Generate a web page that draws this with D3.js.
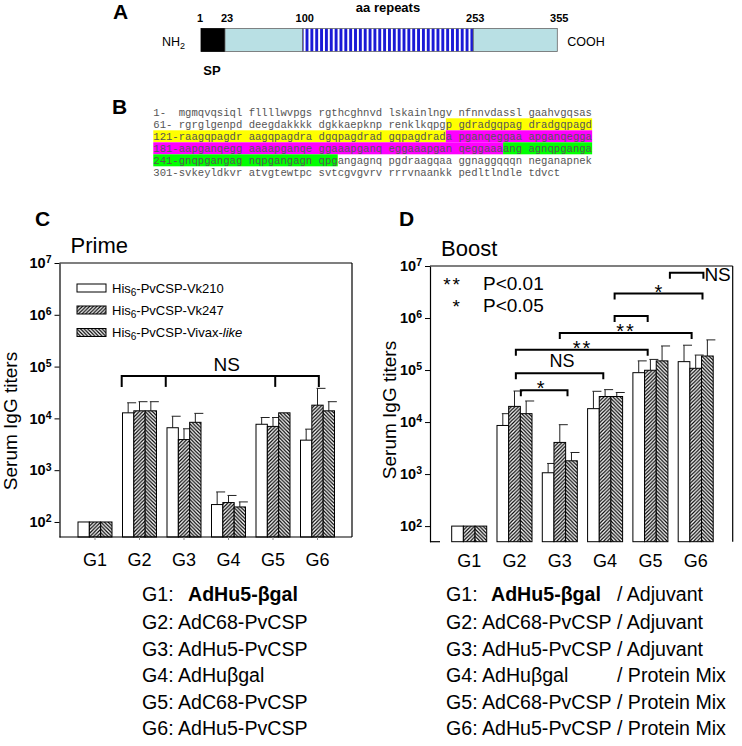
<!DOCTYPE html>
<html><head><meta charset="utf-8">
<script src="https://cdn.jsdelivr.net/npm/d3@7"></script>
<style>
body{margin:0;background:#fff}
svg{display:block}
</style></head><body>
<svg id="fig" width="742" height="746" font-family="'Liberation Sans', Arial, sans-serif"></svg>
<script>
// ---------------- data ----------------
const groups = ["G1","G2","G3","G4","G5","G6"];
const seriesNames = ["Vk210","Vk247","Vivax"];
const legendLabels = ["Vk210","Vk247","Vivax-"];

const primeVk210    = [100, 12800, 6600, 217, 7700, 3800];
const primeVk210Err = [null, 20000, 11000, 380, 10400, 6200];
const primeVk247    = [100, 14000, 3900, 237, 7000, 18000];
const primeVk247Err = [null, 21000, 6300, 325, 10400, 38000];
const primeVivax    = [100, 14000, 8400, 195, 12800, 14000];
const primeVivaxErr = [null, 21000, 12500, 244, null, 21000];

const boostVk210    = [100, 8600, 1060, 18100, 89000, 145000];
const boostVk210Err = [null, 14500, 1600, 39000, 150000, 300000];
const boostVk247    = [100, 20000, 4060, 31000, 99000, 108000];
const boostVk247Err = [null, 39500, 8900, 42000, 160000, 194000];
const boostVivax    = [100, 14500, 1800, 31000, 150000, 186000];
const boostVivaxErr = [null, 25400, 2600, 37000, 290000, 380000];

const yTicks = [1e2, 1e3, 1e4, 1e5, 1e6, 1e7];

// brackets: group-index positions, y in titer units
const primeBracket = {from:0.6, to:5.03, mids:[1.59, 4.05], y:Math.pow(10,4.82), label:"NS", lx:2.96};
const boostBrackets = [
  {from:1.14, to:2.17, y:Math.pow(10,4.61), label:"*",  lx:1.6},
  {from:1.03, to:2.96, y:Math.pow(10,4.94), label:"NS", lx:2.05},
  {from:1.03, to:3.94, y:Math.pow(10,5.39), label:"**", lx:2.5},
  {from:2.0,  to:4.91, y:Math.pow(10,5.71), label:"**", lx:3.46},
  {from:3.21, to:3.94, y:Math.pow(10,6.04), label:"",   lx:3.5},
  {from:3.21, to:5.15, y:Math.pow(10,6.47), label:"*",  lx:4.2},
  {from:4.43, to:5.17, y:Math.pow(10,6.87), label:"NS", lx:null}
];

const primeGroupNames = ["AdHu5-\u03b2gal","AdC68-PvCSP","AdHu5-PvCSP","AdHu\u03b2gal","AdC68-PvCSP","AdHu5-PvCSP"];
const boostSecond = ["/ Adjuvant","/ Adjuvant","/ Adjuvant","/ Protein Mix","/ Protein Mix","/ Protein Mix"];

const cspLandmarks = [1, 23, 100, 253, 355];
const seqLines = [
 "1-  mgmqvqsiql fllllwvpgs rgthcghnvd lskainlngv nfnnvdassl gaahvgqsas",
 "61- rgrglgenpd deegdakkkk dgkkaepknp renklkqpgp gdradgqpag dradgqpagd",
 "121-raagqpagdr aagqpagdra dgqpagdrad gqpagdrada pganqeggaa apganqegga",
 "181-aapganqegg aaaapganqe ggaaapganq eggaaapgan qeggaaaang agnqpganga",
 "241-gnqpgangag nqpgangagn qpgangagnq pgdraagqaa ggnaggqqqn neganapnek",
 "301-svkeyldkvr atvgtewtpc svtcgvgvrv rrrvnaankk pedltlndle tdvct"
];
const seqHighlights = [
 {line:1, start:46, end:69, color:"#ffff00"},
 {line:2, start:0,  end:46, color:"#ffff00"},
 {line:2, start:46, end:69, color:"#ff00ff"},
 {line:3, start:0,  end:55, color:"#ff00ff"},
 {line:3, start:55, end:69, color:"#00ff00"},
 {line:4, start:0,  end:29, color:"#00ff00"}
];

// ---------------- drawing ----------------
const svg = d3.select("#fig");
const defs = svg.append("defs");
function hatch(id, dir){
  const s = 3.6;
  const p = defs.append("pattern").attr("id",id).attr("patternUnits","userSpaceOnUse")
    .attr("width",s).attr("height",s);
  p.append("rect").attr("width",s).attr("height",s).attr("fill","#fff");
  const d = dir>0
    ? `M0,${s} L${s},0 M${-s/2},${s/2} L${s/2},${-s/2} M${s/2},${s*1.5} L${s*1.5},${s/2}`
    : `M0,0 L${s},${s} M${-s/2},${s/2} L${s/2},${s*1.5} M${s/2},${-s/2} L${s*1.5},${s/2}`;
  p.append("path").attr("d",d).attr("stroke","#000").attr("stroke-width",1.2);
}
hatch("hf",1); hatch("hb",-1);
const stripe = defs.append("pattern").attr("id","stripes").attr("patternUnits","userSpaceOnUse")
  .attr("width",4.85).attr("height",10);
stripe.append("rect").attr("width",4.85).attr("height",10).attr("fill","#fff");
stripe.append("rect").attr("width",2.9).attr("height",10).attr("fill","#1a1ad6");
const fills = ["#fff","url(#hf)","url(#hb)"];

function panelLetter(x,y,t){
  svg.append("text").attr("x",x).attr("y",y).attr("font-size",21).attr("font-weight","bold").text(t);
}

// ---- Panel A ----
panelLetter(113,19,"A");
const xA = d3.scaleLinear().domain(cspLandmarks).range([201,225,302.7,473.3,557.3]);
const gA = svg.append("g");
const aTop = 28.5, aH = 23;
const segs = [
  {a:1,b:23,fill:"#000"},
  {a:23,b:100,fill:"#b9e0e4"},
  {a:100,b:253,fill:"url(#stripes)"},
  {a:253,b:355,fill:"#b9e0e4"}
];
gA.selectAll("rect").data(segs).join("rect")
  .attr("x",d=>xA(d.a)).attr("width",d=>xA(d.b)-xA(d.a))
  .attr("y",aTop).attr("height",aH).attr("fill",d=>d.fill)
  .attr("stroke",d=>d.a===1?"#000":"#666").attr("stroke-width",0.8);
gA.selectAll("text.lm").data(cspLandmarks).join("text").attr("class","lm")
  .attr("x",d=>xA(d)+(d===1?-1:2)).attr("y",22).attr("text-anchor","middle")
  .attr("font-size",11).attr("font-weight","bold").text(d=>d);
gA.append("text").attr("x",(xA(100)+xA(253))/2).attr("y",12).attr("text-anchor","middle")
  .attr("font-size",13).attr("font-weight","bold").text("aa repeats");
const nh = gA.append("text").attr("x",162).attr("y",46).attr("font-size",12.5).text("NH");
nh.append("tspan").attr("dy",3).attr("font-size",9).text("2");
gA.append("text").attr("x",xA(355)+10).attr("y",45.5).attr("font-size",12.5).text("COOH");
gA.append("text").attr("x",(xA(1)+xA(23))/2-1).attr("y",75).attr("text-anchor","middle")
  .attr("font-size",13).attr("font-weight","bold").text("SP");

// ---- Panel B ----
panelLetter(112,114,"B");
const bx0 = 153.3, cw = 6.36, by0 = 115.5, lh = 12;
const gB = svg.append("g");
gB.selectAll("rect").data(seqHighlights).join("rect")
  .attr("x",d=>bx0+d.start*cw).attr("width",d=>(d.end-d.start)*cw)
  .attr("y",d=>by0+d.line*lh-9.2).attr("height",lh).attr("fill",d=>d.color);
gB.selectAll("text").data(seqLines).join("text")
  .attr("x",bx0).attr("y",(d,i)=>by0+i*lh)
  .attr("font-family","'Liberation Mono','Courier New',monospace").attr("font-size",10.6)
  .attr("fill","#555").style("white-space","pre").text(d=>d);

// ---- Bar panels ----
function barPanel(opt){
  const g = svg.append("g");
  const y = d3.scaleLog().domain(opt.yDomain).range([opt.bottom, opt.top]);
  const x = d3.scaleBand().domain(groups).range(opt.xRange).paddingInner(opt.pad).paddingOuter(opt.pad/2);
  const xs = d3.scaleBand().domain(seriesNames).range([0,x.bandwidth()]);
  const xi = d3.scaleLinear().domain([0,5]).range([x("G1")+x.bandwidth()/2, x("G6")+x.bandwidth()/2]);
  const rows = groups.flatMap((gn,i)=>seriesNames.map((s,j)=>({g:gn,s,j,v:opt.vals[j][i],e:opt.errs[j][i]})));
  // error bars
  const eb = g.append("g").attr("stroke","#222").attr("stroke-width",1);
  rows.filter(d=>d.e!=null).forEach(d=>{
    const cx = x(d.g)+xs(d.s)+xs.bandwidth()/2;
    eb.append("line").attr("x1",cx).attr("x2",cx).attr("y1",y(d.v)).attr("y2",y(d.e));
    eb.append("line").attr("x1",cx-1).attr("x2",cx+8).attr("y1",y(d.e)).attr("y2",y(d.e));
  });
  g.append("g").selectAll("rect").data(rows).join("rect")
    .attr("x",d=>x(d.g)+xs(d.s)).attr("width",xs.bandwidth())
    .attr("y",d=>y(d.v)).attr("height",d=>opt.bottom-y(d.v))
    .attr("fill",d=>fills[d.j]).attr("stroke","#000").attr("stroke-width",1);
  // y axis
  const ax = g.append("g").attr("transform",`translate(${opt.left},0)`)
    .call(d3.axisLeft(y).tickValues(yTicks).tickSize(5).tickSizeOuter(0).tickPadding(3).tickFormat(""));
  ax.attr("font-family",null).attr("font-size",null);
  ax.select(".domain").attr("stroke","#000").attr("stroke-width",1.2);
  ax.selectAll(".tick line").attr("stroke","#000");
  ax.selectAll(".tick text").attr("font-size",14.5).attr("font-weight","bold").attr("fill","#000")
    .each(function(d){
      const t = d3.select(this);
      t.text("10");
      t.append("tspan").attr("dy","-0.45em").attr("font-size",10.5).text(Math.round(Math.log10(d)));
    });
  // frame
  g.append("line").attr("x1",opt.left).attr("x2",opt.right).attr("y1",opt.top).attr("y2",opt.top).attr("stroke","#000").attr("stroke-width",1.2);
  g.append("line").attr("x1",opt.right).attr("x2",opt.right).attr("y1",opt.top).attr("y2",opt.bottom).attr("stroke","#000").attr("stroke-width",1.2);
  g.append("line").attr("x1",opt.left).attr("x2",opt.fullBottom?opt.right:opt.left+10).attr("y1",opt.bottom).attr("y2",opt.bottom).attr("stroke","#000").attr("stroke-width",1.2);
  if(opt.fullBottom){
    g.append("g").selectAll("line").data(groups).join("line")
      .attr("x1",d=>x(d)+x.bandwidth()/2).attr("x2",d=>x(d)+x.bandwidth()/2)
      .attr("y1",opt.bottom).attr("y2",opt.bottom+3).attr("stroke","#888");
  }
  // x labels
  g.append("g").selectAll("text").data(groups).join("text")
    .attr("x",d=>x(d)+x.bandwidth()/2).attr("y",opt.xLabelY).attr("text-anchor","middle")
    .attr("font-size",18).text(d=>d);
  // y title
  g.append("text").attr("transform",`translate(${opt.yTitleX},${opt.yTitleY}) rotate(-90)`)
    .attr("text-anchor","middle").attr("font-size",19).text("Serum IgG titers");
  // subtitle
  g.append("text").attr("x",opt.left+11).attr("y",opt.top-10).attr("font-size",22).text(opt.title);
  return {g,x,y,xi};
}

// Panel C (Prime)
panelLetter(35,226,"C");
const C = barPanel({
  left:59.5, right:352, top:263, bottom:537, yDomain:[Math.pow(10,1.71),1e7],
  xRange:[72.75,339.75], pad:0.236,
  vals:[primeVk210,primeVk247,primeVivax], errs:[primeVk210Err,primeVk247Err,primeVivaxErr],
  fullBottom:true, xLabelY:566, yTitleX:16.5, yTitleY:421, title:"Prime"
});
{
  const b = primeBracket, g = C.g.append("g").attr("stroke","#000").attr("stroke-width",2).attr("fill","none");
  const by = C.y(b.y);
  g.append("path").attr("d",`M${C.xi(b.from)},${by+11}V${by}H${C.xi(b.to)}V${by+11}`);
  b.mids.forEach(m=>g.append("line").attr("x1",C.xi(m)).attr("x2",C.xi(m)).attr("y1",by).attr("y2",by+11));
  C.g.append("text").attr("x",C.xi(b.lx)).attr("y",by-5).attr("text-anchor","middle").attr("font-size",19).text(b.label);
}
// series legend (C)
{
  const lg = C.g.append("g");
  const rowsY = [288, 310, 332.5];
  seriesNames.forEach((s,j)=>{
    lg.append("rect").attr("x",77).attr("y",rowsY[j]-4).attr("width",29).attr("height",8)
      .attr("fill",fills[j]).attr("stroke","#000").attr("stroke-width",1);
    const t = lg.append("text").attr("x",112).attr("y",rowsY[j]+4.5).attr("font-size",13);
    t.append("tspan").text("His");
    t.append("tspan").attr("dy",3).attr("font-size",10).text("6");
    t.append("tspan").attr("dy",-3).text("-PvCSP-"+legendLabels[j]);
    if(j===2) t.append("tspan").attr("font-style","italic").text("like");
  });
}

// Panel D (Boost)
panelLetter(399,226,"D");
const D = barPanel({
  left:430, right:732.7, top:266, bottom:541.7, yDomain:[Math.pow(10,1.7),1e7],
  xRange:[446.55,718.35], pad:0.227,
  vals:[boostVk210,boostVk247,boostVivax], errs:[boostVk210Err,boostVk247Err,boostVivaxErr],
  fullBottom:false, xLabelY:567, yTitleX:396, yTitleY:410, title:"Boost"
});
{
  const g = D.g.append("g").attr("stroke","#000").attr("stroke-width",2).attr("fill","none");
  boostBrackets.forEach(b=>{
    const by = D.y(b.y);
    g.append("path").attr("d",`M${D.xi(b.from)},${by+6}V${by}H${D.xi(b.to)}V${by+6}`);
    if(b.label==="NS" && b.lx==null){
      D.g.append("text").attr("x",D.xi(b.to)+1).attr("y",by+8).attr("font-size",19).text(b.label);
    } else if(b.label==="NS"){
      D.g.append("text").attr("x",D.xi(b.lx)).attr("y",by-6).attr("text-anchor","middle").attr("font-size",18).text(b.label);
    } else if(b.label){
      D.g.append("text").attr("x",D.xi(b.lx)).attr("y",by+5).attr("text-anchor","middle").attr("font-size",20).attr("letter-spacing",2).text(b.label);
    }
  });
  const key = D.g.append("g").attr("font-size",19);
  key.append("text").attr("x",462).attr("y",291).attr("text-anchor","end").attr("letter-spacing",2).text("**");
  key.append("text").attr("x",462).attr("y",313).attr("text-anchor","end").attr("letter-spacing",2).text("*");
  key.append("text").attr("x",483).attr("y",290).text("P<0.01");
  key.append("text").attr("x",483).attr("y",312).text("P<0.05");
}

// group descriptions
const descY = [601, 629, 655.5, 682, 708.5, 735];
{
  const fs = 19.6;
  const gl = svg.append("g").attr("font-size",fs);
  primeGroupNames.forEach((n,i)=>{
    const t = gl.append("text").attr("x",142).attr("y",descY[i]);
    if(i===0){
      t.append("tspan").text("G1:");
      t.append("tspan").attr("x",188).attr("font-weight","bold").text(n);
    } else t.text(`${groups[i]}: ${n}`);
  });
  const ref = gl.append("text").attr("x",446).attr("y",-50).text("G2: AdC68-PvCSP");
  const slashX = 446 + ref.node().getComputedTextLength() + 0.278*fs;
  ref.remove();
  primeGroupNames.forEach((n,i)=>{
    const t = gl.append("text").attr("x",446).attr("y",descY[i]);
    if(i===0){
      t.append("tspan").text("G1:");
      t.append("tspan").attr("x",491).attr("font-weight","bold").text(n);
    } else t.append("tspan").text(`${groups[i]}: ${n}`);
    t.append("tspan").attr("x",slashX).text(boostSecond[i]);
  });
}
</script>
</body></html>
